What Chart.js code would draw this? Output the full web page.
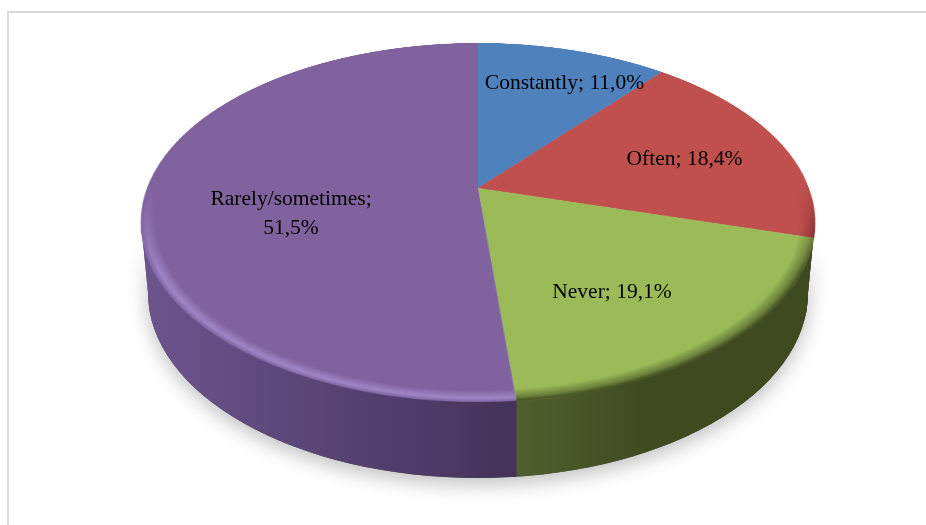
<!DOCTYPE html>
<html>
<head>
<meta charset="utf-8">
<title>Pie chart</title>
<script src="https://cdn.jsdelivr.net/npm/chart.js@4"></script>
<style>
  html, body { margin: 0; padding: 0; background: #fff; }
  #page { position: relative; width: 926px; height: 525px; overflow: hidden; background: #fff; }
  #frame { position: absolute; left: 7px; top: 11px; right: -4px; bottom: -4px; border: 2px solid #d9d9d9; }
  #wall { position: absolute; left: 0; top: 0; }
  #pie { position: absolute; }
  .label {
    position: absolute; transform: translate(-50%, -50%); text-align: center; white-space: nowrap;
    font: 21.5px/29px "Liberation Serif", serif; color: #000;
  }
</style>
</head>
<body>
<div id="page">
  <div id="frame"></div>
  <canvas id="wall" width="926" height="525"></canvas>
  <canvas id="pie" width="662" height="662"></canvas>
</div>
<script>
const categories = ["Constantly", "Often", "Never", "Rarely/sometimes"]
const shares = [11.0, 18.4, 19.1, 51.5]
const faceColors = ["#4f81bd", "#c0504d", "#9bbb59", "#80629e"]

// wall shading, left to right
const wallColors = [
  ["#2f4d72", "#2f4d72"],
  ["#7a2c2c", "#6a2626"],
  ["#515f2e", "#3f4a20"],
  ["#6c558e", "#44325a"],
]
// bevel on the front of the disc: inner, middle, outer
const bevelColors = [
  ["rgba(47,77,114,0)", "rgba(47,77,114,.5)", "rgba(47,77,114,.8)"],
  ["rgba(90,30,30,0)", "rgba(90,30,30,.55)", "rgba(70,20,20,.95)"],
  ["rgba(63,74,32,0)", "rgba(70,85,38,.55)", "rgba(63,74,32,1)"],
  ["rgba(165,140,205,0)", "rgba(165,140,205,.85)", "rgba(125,100,160,.9)"],
]

const labelSpots = [[564.5, 82], [684.5, 158], [612, 291], [291, 212.5]]
const labelBreaks = [" ", " ", " ", "<br>"]

// disc placement on the page
const centerX = 478
const centerY = 188
const radius = 331
const tilt = 58.5
const viewDistance = 1470
const bottomEllipse = { y: 293, rx: 330, ry: 185 }
const topEllipse = { y: 222, rx: 337, ry: 179 }

const pieCanvas = document.getElementById("pie")
pieCanvas.style.left = centerX - radius + "px"
pieCanvas.style.top = centerY - radius + "px"
pieCanvas.style.transformOrigin = "50% 50%"
pieCanvas.style.transform = "perspective(" + viewDistance + "px) rotateX(" + tilt + "deg)"

// where a point on the rim ends up on screen after the css transform
function rimPoint(angle) {
  const t = (tilt * Math.PI) / 180
  const z = 1 - (radius * Math.sin(angle) * Math.sin(t)) / viewDistance
  return {
    x: centerX + (radius * Math.cos(angle)) / z,
    y: centerY + (radius * Math.sin(angle) * Math.cos(t)) / z,
  }
}

function silhouette(ctx) {
  ctx.beginPath()
  ctx.ellipse(centerX, topEllipse.y, topEllipse.rx, topEllipse.ry, 0, Math.PI, 0, true)
  ctx.lineTo(centerX + bottomEllipse.rx, bottomEllipse.y)
  ctx.ellipse(centerX, bottomEllipse.y, bottomEllipse.rx, bottomEllipse.ry, 0, 0, Math.PI)
  ctx.closePath()
}

function drawWall(arcs) {
  const ctx = document.getElementById("wall").getContext("2d")
  ctx.save()
  ctx.shadowColor = "rgba(0,0,0,.26)"
  ctx.shadowBlur = 20
  ctx.shadowOffsetY = 6
  ctx.fillStyle = "#555"
  silhouette(ctx)
  ctx.fill()
  ctx.restore()

  arcs.forEach((arc, i) => {
    // visible x range of this slice along the front of the rim
    let minX = Infinity
    let maxX = -Infinity
    for (let k = 0; k <= 200; k++) {
      const a = arc.startAngle + ((arc.endAngle - arc.startAngle) * k) / 200
      if (Math.sin(a) < -0.05) continue
      const p = rimPoint(a)
      minX = Math.min(minX, p.x)
      maxX = Math.max(maxX, p.x)
    }
    if (minX === Infinity) return
    const grad = ctx.createLinearGradient(minX, 0, minX + (maxX - minX) * (i === 2 ? 0.45 : 1), 0)
    grad.addColorStop(0, wallColors[i][0])
    grad.addColorStop(1, wallColors[i][1])
    ctx.save()
    ctx.beginPath()
    ctx.rect(minX - (i === 3 ? 20 : 0), 0, maxX - minX + (i === 3 ? 20 : i === 1 ? 10 : 0), 525)
    ctx.clip()
    silhouette(ctx)
    ctx.fillStyle = grad
    ctx.fill()
    ctx.restore()
  })
}

const wallAndBevel = {
  id: "wallAndBevel",
  afterDatasetsDraw(chart) {
    const arcs = chart.getDatasetMeta(0).data
    drawWall(arcs)

    const dpr = chart.currentDevicePixelRatio
    const off = document.createElement("canvas")
    off.width = chart.canvas.width
    off.height = chart.canvas.height
    const o = off.getContext("2d")
    o.scale(dpr, dpr)
    arcs.forEach((arc, i) => {
      const g = o.createRadialGradient(arc.x, arc.y, arc.outerRadius - 15, arc.x, arc.y, arc.outerRadius)
      g.addColorStop(0, bevelColors[i][0])
      g.addColorStop(0.65, bevelColors[i][1])
      g.addColorStop(1, bevelColors[i][2])
      o.beginPath()
      o.moveTo(arc.x, arc.y)
      o.arc(arc.x, arc.y, arc.outerRadius, arc.startAngle, arc.endAngle)
      o.closePath()
      o.fillStyle = g
      o.fill()
    })
    // bevel only shows on the near half
    const mask = o.createLinearGradient(0, radius, 0, radius + radius * 0.45)
    mask.addColorStop(0, "rgba(0,0,0,0)")
    mask.addColorStop(1, "rgba(0,0,0,1)")
    o.globalCompositeOperation = "destination-in"
    o.fillStyle = mask
    o.fillRect(0, 0, radius * 2, radius * 2)

    const ctx = chart.ctx
    ctx.save()
    ctx.setTransform(1, 0, 0, 1, 0, 0)
    ctx.drawImage(off, 0, 0)
    ctx.restore()
  },
}

new Chart(pieCanvas, {
  type: "pie",
  data: {
    labels: categories,
    datasets: [{ data: shares, backgroundColor: faceColors, borderWidth: 0 }],
  },
  options: {
    responsive: false,
    animation: false,
    devicePixelRatio: 2,
    plugins: { legend: { display: false }, tooltip: { enabled: false } },
  },
  plugins: [wallAndBevel],
})

const page = document.getElementById("page")
categories.forEach((name, i) => {
  const div = document.createElement("div")
  div.className = "label"
  div.style.left = labelSpots[i][0] + "px"
  div.style.top = labelSpots[i][1] + "px"
  div.innerHTML = name + ";" + labelBreaks[i] + shares[i].toFixed(1).replace(".", ",") + "%"
  page.appendChild(div)
})
</script>
</body>
</html>
